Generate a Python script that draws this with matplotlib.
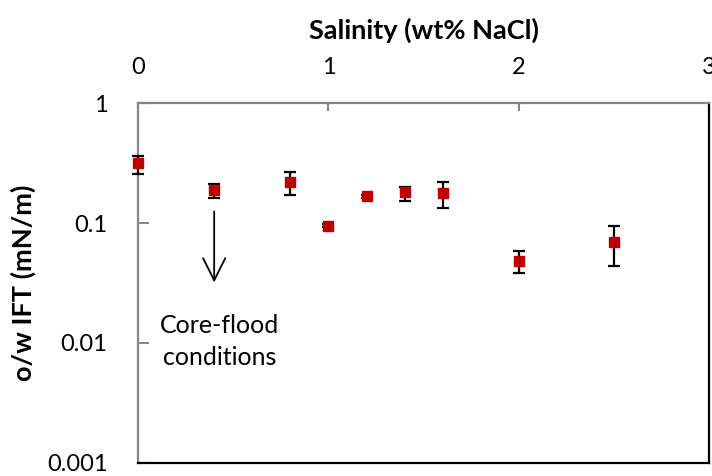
import matplotlib
matplotlib.use("Agg")
import matplotlib.pyplot as plt

salinity = [0.0, 0.4, 0.8, 1.0, 1.2, 1.4, 1.6, 2.0, 2.5]
ift = [0.316, 0.189, 0.220, 0.095, 0.168, 0.181, 0.178, 0.048, 0.0695]
err_low = [0.257, 0.163, 0.171, 0.092, 0.163, 0.153, 0.133, 0.038, 0.0438]
err_high = [0.366, 0.211, 0.268, 0.098, 0.173, 0.202, 0.220, 0.058, 0.095]

x_ticks = [0, 1, 2, 3]
y_ticks = [0.001, 0.01, 0.1, 1]
y_ticklabels = ["0.001", "0.01", "0.1", "1"]

arrow_x = 0.4
arrow_top = 0.125
arrow_tip = 0.032
note_text = "Core-flood\nconditions"

plt.rcParams['font.family'] = ['Lato', 'DejaVu Sans']

fig = plt.figure(figsize=(7.12, 4.76), dpi=100)
ax = fig.add_axes([138 / 712, 13.3 / 476, (709.3 - 138) / 712, (462.7 - 103.3) / 476])

yerr = [[v - lo for v, lo in zip(ift, err_low)], [hi - v for v, hi in zip(ift, err_high)]]
ax.errorbar(salinity, ift, yerr=yerr, fmt='s', color='#C00000', markersize=7.8,
            ecolor='black', elinewidth=1.6, capsize=4.3, capthick=1.6, zorder=3,
            clip_on=False)

ax.set_yscale('log')
ax.set_ylim(0.001, 1)
ax.set_xlim(0, 3)
ax.set_yticks(y_ticks)
ax.set_yticklabels(y_ticklabels)
ax.minorticks_off()
ax.set_xticks(x_ticks)

ax.xaxis.tick_top()
ax.xaxis.set_label_position('top')
ax.tick_params(axis='x', direction='in', length=6, width=1.5, color='#868686',
               labelsize=17, pad=18.5)
ax.tick_params(axis='y', direction='in', length=8, width=1.5, color='#868686',
               labelsize=17, pad=22)

for s in ['top', 'left']:
    ax.spines[s].set_color('#868686')
    ax.spines[s].set_linewidth(1.6)
for s in ['bottom', 'right']:
    ax.spines[s].set_color('black')
    ax.spines[s].set_linewidth(1.6)

ax.set_xlabel('Salinity (wt% NaCl)', fontsize=19.5, fontweight='bold', labelpad=13)
ax.set_ylabel('o/w IFT (mN/m)', fontsize=19.5, fontweight='bold', labelpad=8)

ax.annotate('', xy=(arrow_x, arrow_tip), xytext=(arrow_x, arrow_top),
            arrowprops=dict(arrowstyle='->', color='black', lw=1.3,
                            mutation_scale=40, shrinkA=0, shrinkB=0))
ax.text(0.43, 0.0103, note_text, ha='center', va='center', fontsize=18,
        linespacing=1.45)

fig.savefig('out.png', dpi=100)
